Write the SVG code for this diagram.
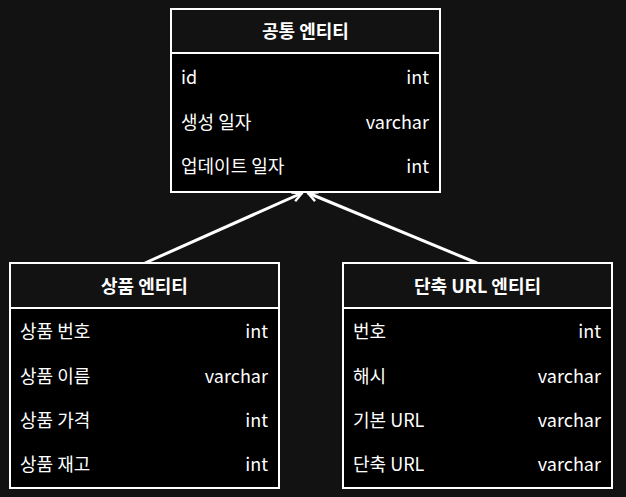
<svg xmlns="http://www.w3.org/2000/svg" width="626" height="497" viewBox="0 0 626 497">
<defs>
<style>
.hd{fill:#121212;stroke:#fff;stroke-width:2}
.bd{fill:#000;stroke:#fff;stroke-width:2}
text{font-family:"Noto Sans CJK KR","Noto Sans",sans-serif;fill:#fff;font-size:18px}
.t{font-weight:bold;text-anchor:middle}
.r{text-anchor:end}
.edge{stroke:#fff;stroke-width:3;fill:none}
</style>
<marker id="ah" viewBox="0 0 10 10" refX="9" refY="5" markerWidth="4" markerHeight="4" orient="auto" markerUnits="strokeWidth">
<path d="M1,1 L9,5 L1,9" fill="none" stroke="#fff" stroke-width="2"/>
</marker>
</defs>
<rect x="0" y="0" width="626" height="497" fill="#121212"/>
<g id="connectors">
<line class="edge" x1="145" y1="263" x2="302" y2="193" marker-end="url(#ah)"/>
<line class="edge" x1="477" y1="263" x2="308" y2="193" marker-end="url(#ah)"/>
</g>
<g id="common">
<rect class="bd" x="171" y="9" width="269" height="183"/>
<rect class="hd" x="171" y="9" width="269" height="44"/>
<text class="t" x="305.5" y="38">공통 엔티티</text>
<text x="181" y="84">id</text><text class="r" x="429" y="84">int</text>
<text x="181" y="129">생성 일자</text><text class="r" x="429" y="129">varchar</text>
<text x="181" y="173">업데이트 일자</text><text class="r" x="429" y="173">int</text>
</g>
<g id="product">
<rect class="bd" x="10" y="263" width="269" height="225"/>
<rect class="hd" x="10" y="263" width="269" height="45"/>
<text class="t" x="144.5" y="293">상품 엔티티</text>
<text x="20" y="338">상품 번호</text><text class="r" x="268" y="338">int</text>
<text x="20" y="383">상품 이름</text><text class="r" x="268" y="383">varchar</text>
<text x="20" y="427">상품 가격</text><text class="r" x="268" y="427">int</text>
<text x="20" y="471">상품 재고</text><text class="r" x="268" y="471">int</text>
</g>
<g id="shorturl">
<rect class="bd" x="343" y="263" width="269" height="225"/>
<rect class="hd" x="343" y="263" width="269" height="45"/>
<text class="t" x="477.5" y="293">단축 URL 엔티티</text>
<text x="353" y="338">번호</text><text class="r" x="601" y="338">int</text>
<text x="353" y="383">해시</text><text class="r" x="601" y="383">varchar</text>
<text x="353" y="427">기본 URL</text><text class="r" x="601" y="427">varchar</text>
<text x="353" y="471">단축 URL</text><text class="r" x="601" y="471">varchar</text>
</g>
</svg>
